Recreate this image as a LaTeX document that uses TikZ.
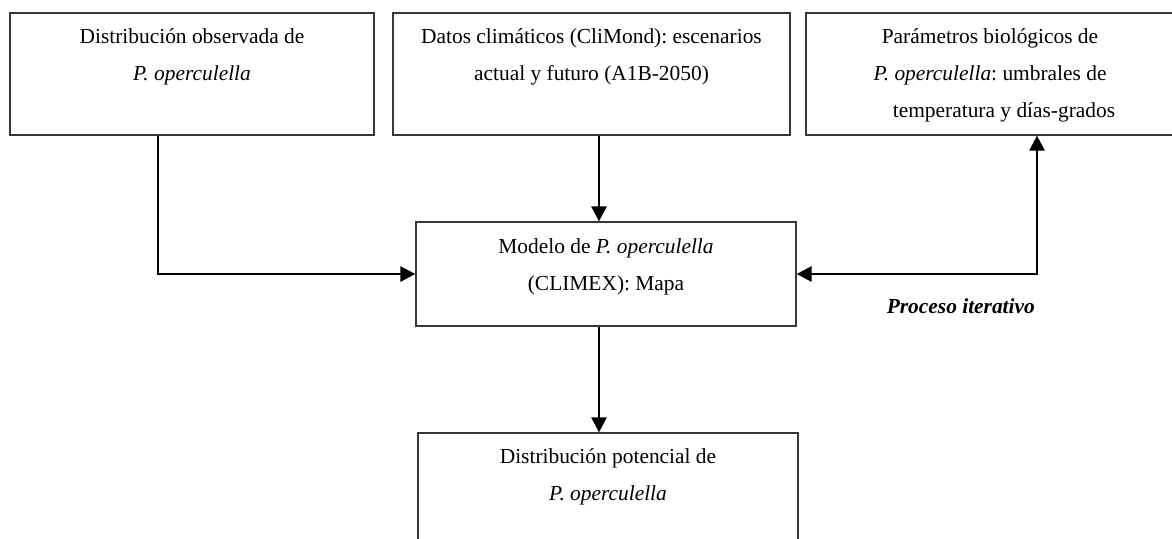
\documentclass[tikz,border=0pt]{standalone}
\usepackage{fontspec}
\setmainfont{Liberation Serif}
\usetikzlibrary{arrows.meta}
\frenchspacing
\begin{document}
\begin{tikzpicture}[x=1pt,y=-1pt,
  boxnode/.style={draw=black!78, line width=1.2pt, inner sep=0pt},
  txt/.style={anchor=base, inner sep=0pt, font=\fontsize{21.4}{37}\selectfont},
  conn/.style={line width=2.6pt, -{Triangle[length=15pt,width=15pt]}},
  connboth/.style={line width=2.6pt, {Triangle[length=15pt,width=15pt]}-{Triangle[length=15pt,width=15pt]}}]
\useasboundingbox (0,0) rectangle (1172,538);
% boxes
\node[boxnode, minimum width=364pt, minimum height=122pt] (box1) at (192,74) {};
\node[boxnode, minimum width=397pt, minimum height=122pt] (box2) at (591.5,74) {};
\node[boxnode, minimum width=368pt, minimum height=122pt] (box3) at (990,74) {};
\node[boxnode, minimum width=380pt, minimum height=104pt] (model) at (606,274) {};
\node[boxnode, minimum width=380pt, minimum height=127pt] (result) at (608,496.5) {};
% texts
\node[txt] (t1) at (192,43) {\parbox[t]{390pt}{\centering Distribución observada de\\\textit{P. operculella}}};
\node[txt] (t2) at (591.5,43) {\parbox[t]{390pt}{\centering Datos climáticos (CliMond): escenarios\\actual y futuro (A1B-2050)}};
\node[txt] (t3) at (990,43) {\parbox[t]{390pt}{\centering Parámetros biológicos de\\\textit{P. operculella}: umbrales de\\\hspace*{28pt}temperatura y días-grados}};
\node[txt] (t4) at (606,253) {\parbox[t]{390pt}{\centering Modelo de \textit{P. operculella}\\(CLIMEX): Mapa}};
\node[txt] (t5) at (608,463) {\parbox[t]{390pt}{\centering Distribución potencial de\\\textit{P. operculella}}};
\node[anchor=base east, inner sep=0pt, font=\fontsize{21.4}{37}\selectfont\bfseries\itshape] (iter) at (1035,313) {Proceso iterativo};
% connector columns
\coordinate (c1) at (158,0);
\coordinate (c2) at (599,0);
\coordinate (c3) at (1037,0);
% connectors
\draw[conn] (box1.south -| c1) |- (model.west);
\draw[conn] (box2.south -| c2) -- (model.north -| c2);
\draw[connboth] (model.east) -| (box3.south -| c3);
\draw[conn] (model.south -| c2) -- (result.north -| c2);
\end{tikzpicture}
\end{document}
